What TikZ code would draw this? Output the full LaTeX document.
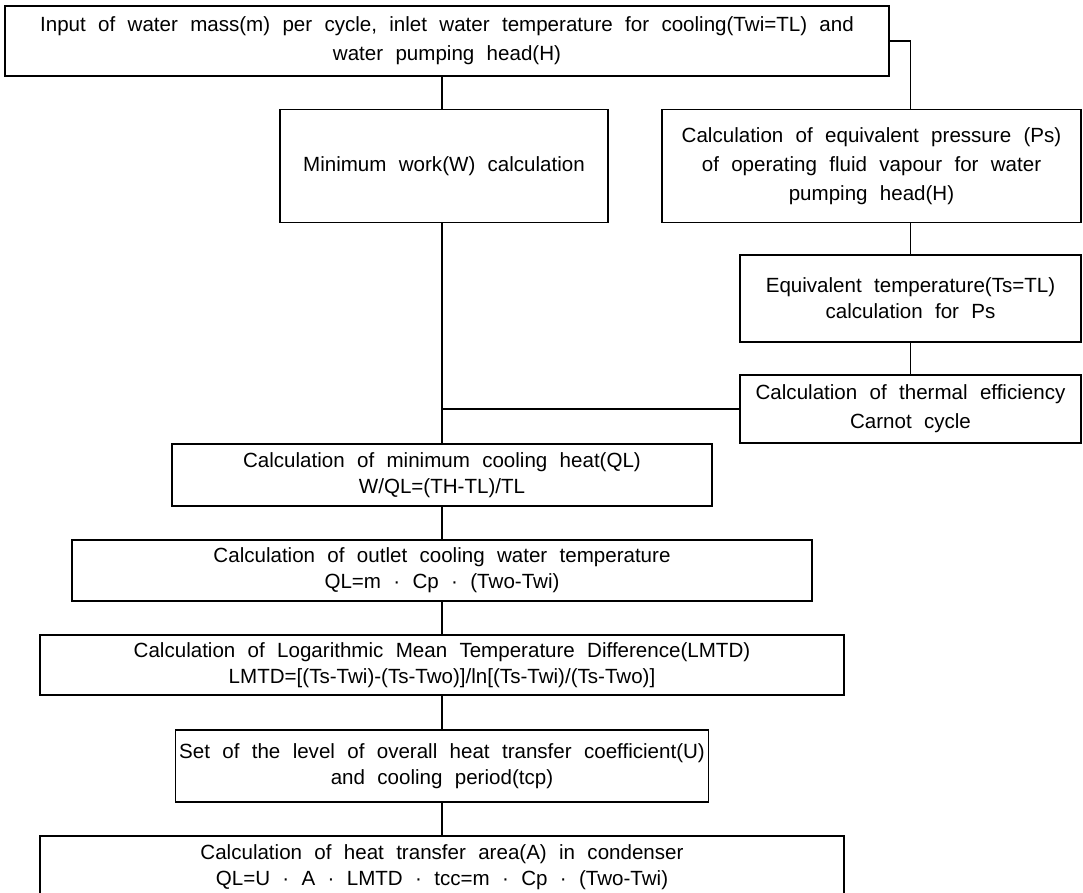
\documentclass[tikz,border=0pt]{standalone}
\usepackage{fontspec}
\setmainfont{Liberation Sans}
\usetikzlibrary{positioning}
\tikzset{
	block/.style = {draw, line width=0.7pt, rectangle, align=center, inner sep=2pt,
		font={\fontsize{11.7}{14.8}\selectfont\spaceskip=0.6em\relax}},
	loose/.style = {font={\fontsize{11.7}{16.6}\selectfont\spaceskip=0.6em\relax}},
	bw/.style    = {minimum width=#1*0.02cm},
	bh/.style    = {minimum height=#1*0.02cm},
	link/.style  = {line width=0.7pt}
}

\begin{document}
\begin{tikzpicture}[x=0.02cm, y=-0.02cm]
	\useasboundingbox (0,0) rectangle (1083,893);
	\draw
	node at (447,41)[block, loose, bw=884, bh=70] (input)
		{Input of water mass(m) per cycle, inlet water temperature for cooling(Twi=TL) and\\water pumping head(H)}
	node at (444,166)[block, bw=328, bh=113] (work)
		{Minimum work(W) calculation}
	node at (871.5,166)[block, loose, bw=419, bh=113] (press)
		{Calculation of equivalent pressure (Ps)\\of operating fluid vapour for water\\pumping head(H)}
	node at (910.5,298.5)[block, bw=341, bh=87] (eqtemp)
		{Equivalent temperature(Ts=TL)\\calculation for Ps}
	node at (910.5,409)[block, loose, bw=341, bh=68] (carnot)
		{Calculation of thermal efficiency\\Carnot cycle}
	node at (442,475)[block, bw=540, bh=62] (heat)
		{Calculation of minimum cooling heat(QL)\\W/QL=(TH-TL)/TL}
	node at (442,570.5)[block, bw=740, bh=61] (outlet)
		{Calculation of outlet cooling water temperature\\QL=m · Cp · (Two-Twi)}
	node at (442,665)[block, bw=804, bh=60] (lmtd)
		{Calculation of Logarithmic Mean Temperature Difference(LMTD)\\LMTD=[(Ts-Twi)-(Ts-Two)]/ln[(Ts-Twi)/(Ts-Two)]}
	node at (442,766)[block, bw=526, bh=72] (coeff)
		{Set of the level of overall heat transfer coefficient(U)\\and cooling period(tcp)}
	node at (442,867)[block, bw=804, bh=62] (area)
		{Calculation of heat transfer area(A) in condenser\\QL=U · A · LMTD · tcc=m · Cp · (Two-Twi)};

	\coordinate (join) at (heat.north |- carnot.west);
	\coordinate (tap) at (eqtemp.north |- input.east);
	\draw[link] (heat.north |- work.north) -- (heat.north |- input.south);
	\draw[link] (input.east) -- (tap) -- (tap |- press.north);
	\draw[link] (eqtemp.north) -- (eqtemp.north |- press.south);
	\draw[link] (eqtemp) -- (carnot);
	\draw[link] (heat.north |- work.south) -- (heat.north);
	\draw[link] (carnot.west) -- (join);
	\draw[link] (heat) -- (outlet);
	\draw[link] (outlet) -- (lmtd);
	\draw[link] (lmtd) -- (coeff);
	\draw[link] (coeff) -- (area);
\end{tikzpicture}
\end{document}
